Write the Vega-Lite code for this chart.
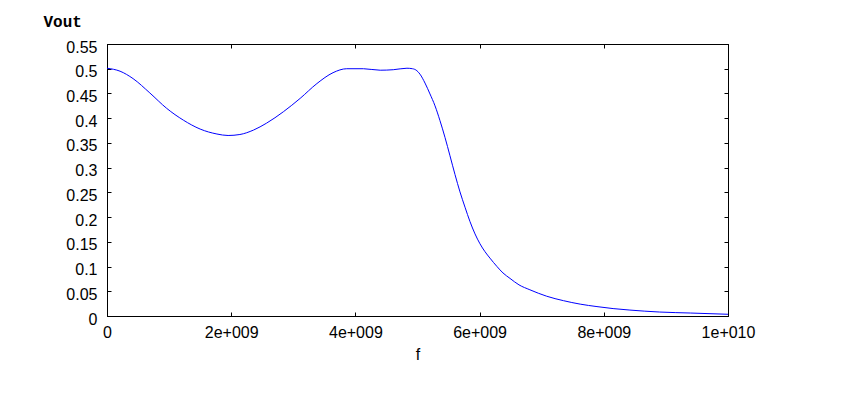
{
  "$schema": "https://vega.github.io/schema/vega-lite/v6.json",
  "width": 621,
  "height": 272,
  "autosize": {"type": "none"},
  "padding": {"left": 107, "top": 44, "right": 124, "bottom": 83},
  "background": "white",
  "config": {
    "view": {"stroke": "black", "strokeWidth": 1},
    "axis": {
      "grid": false,
      "domainColor": "black",
      "domainWidth": 1,
      "tickColor": "black",
      "tickWidth": 1,
      "tickSize": -4,
      "labelFont": "Liberation Sans",
      "labelFontSize": 16,
      "labelColor": "black",
      "titleFont": "Liberation Sans",
      "titleFontSize": 16,
      "titleFontWeight": "normal",
      "titleColor": "black"
    }
  },
  "data": {
    "values": [
      {"f": 0, "vout": 0.501},
      {"f": 2.1e8, "vout": 0.495},
      {"f": 4.2e8, "vout": 0.480},
      {"f": 6.9e8, "vout": 0.451},
      {"f": 9.6e8, "vout": 0.420},
      {"f": 1.23e9, "vout": 0.396},
      {"f": 1.50e9, "vout": 0.378},
      {"f": 1.77e9, "vout": 0.368},
      {"f": 1.95e9, "vout": 0.365},
      {"f": 2.14e9, "vout": 0.367},
      {"f": 2.36e9, "vout": 0.376},
      {"f": 2.57e9, "vout": 0.390},
      {"f": 2.84e9, "vout": 0.413},
      {"f": 3.11e9, "vout": 0.440},
      {"f": 3.38e9, "vout": 0.470},
      {"f": 3.64e9, "vout": 0.492},
      {"f": 3.86e9, "vout": 0.500},
      {"f": 4.13e9, "vout": 0.500},
      {"f": 4.40e9, "vout": 0.497},
      {"f": 4.61e9, "vout": 0.498},
      {"f": 4.83e9, "vout": 0.501},
      {"f": 4.92e9, "vout": 0.500},
      {"f": 4.99e9, "vout": 0.496},
      {"f": 5.04e9, "vout": 0.489},
      {"f": 5.121e9, "vout": 0.471},
      {"f": 5.201e9, "vout": 0.449},
      {"f": 5.282e9, "vout": 0.425},
      {"f": 5.362e9, "vout": 0.395},
      {"f": 5.443e9, "vout": 0.361},
      {"f": 5.523e9, "vout": 0.324},
      {"f": 5.604e9, "vout": 0.286},
      {"f": 5.684e9, "vout": 0.251},
      {"f": 5.765e9, "vout": 0.220},
      {"f": 5.845e9, "vout": 0.191},
      {"f": 5.926e9, "vout": 0.166},
      {"f": 6.006e9, "vout": 0.146},
      {"f": 6.087e9, "vout": 0.130},
      {"f": 6.167e9, "vout": 0.117},
      {"f": 6.280e9, "vout": 0.100},
      {"f": 6.377e9, "vout": 0.087},
      {"f": 6.490e9, "vout": 0.076},
      {"f": 6.634e9, "vout": 0.063},
      {"f": 6.81e9, "vout": 0.053},
      {"f": 7.08e9, "vout": 0.040},
      {"f": 7.35e9, "vout": 0.031},
      {"f": 7.62e9, "vout": 0.024},
      {"f": 7.89e9, "vout": 0.019},
      {"f": 8.15e9, "vout": 0.015},
      {"f": 8.42e9, "vout": 0.012},
      {"f": 8.9e9, "vout": 0.008},
      {"f": 9.4e9, "vout": 0.006},
      {"f": 1.0e10, "vout": 0.0035}
    ]
  },
  "layer": [
    {
      "mark": {"type": "line", "color": "#0000ff", "strokeWidth": 1, "interpolate": "monotone"},
      "encoding": {
        "x": {
          "field": "f", "type": "quantitative",
          "scale": {"domain": [0, 1e10], "nice": false, "zero": false},
          "axis": {
            "title": "f",
            "values": [0, 2e9, 4e9, 6e9, 8e9, 1e10],
            "labelExpr": "datum.value == 0 ? '0' : (datum.value >= 1e10 ? '1e+010' : (datum.value / 1e9) + 'e+009')",
            "labelPadding": 12,
            "labelFlush": false,
            "labelOverlap": false,
            "titlePadding": 6
          }
        },
        "y": {
          "field": "vout", "type": "quantitative",
          "scale": {"domain": [0, 0.55], "nice": false, "zero": false},
          "axis": {
            "title": "Vout",
            "values": [0, 0.05, 0.1, 0.15, 0.2, 0.25, 0.3, 0.35, 0.4, 0.45, 0.5, 0.55],
            "format": ".2~f",
            "labelPadding": 14,
            "labelOffset": 3,
            "labelFlush": false,
            "labelOverlap": false,
            "titleAngle": 0,
            "titleAlign": "left",
            "titleBaseline": "alphabetic",
            "titleX": -64,
            "titleY": -18,
            "titleFont": "Liberation Mono",
            "titleFontWeight": "bold",
            "titleFontSize": 16
          }
        }
      }
    },
    {
      "mark": {"type": "line", "strokeOpacity": 0},
      "encoding": {
        "x": {
          "field": "f", "type": "quantitative",
          "axis": {"orient": "top", "title": null, "labels": false, "values": [0, 2e9, 4e9, 6e9, 8e9, 1e10]}
        },
        "y": {
          "field": "vout", "type": "quantitative",
          "axis": {"orient": "right", "title": null, "labels": false, "values": [0, 0.05, 0.1, 0.15, 0.2, 0.25, 0.3, 0.35, 0.4, 0.45, 0.5, 0.55]}
        }
      }
    }
  ],
  "resolve": {"axis": {"x": "independent", "y": "independent"}}
}
